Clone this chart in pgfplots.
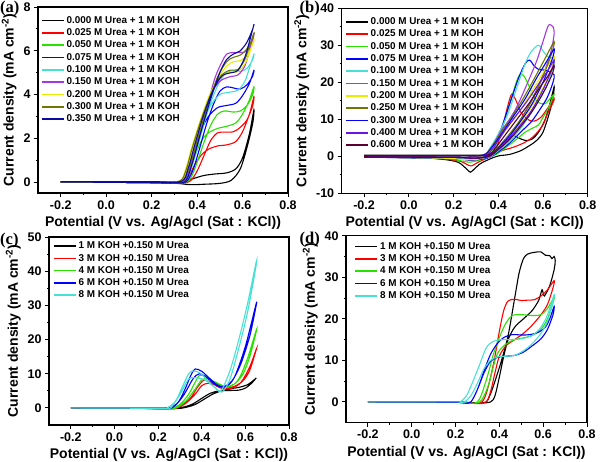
\documentclass[border=0pt]{standalone}
\usepackage{fontspec}
\setmainfont{Liberation Sans}
\newfontfamily\serifb{Liberation Serif}
\usepackage{pgfplots}
\pgfplotsset{compat=1.18}

\definecolor{cgreen}{RGB}{40,225,0}
\definecolor{ccyan}{RGB}{70,225,210}
\definecolor{cpurple}{RGB}{165,55,225}
\definecolor{cyellow}{RGB}{235,235,0}
\definecolor{colive}{RGB}{110,120,0}
\definecolor{cnavy}{RGB}{10,10,160}
\definecolor{cblue}{RGB}{0,0,255}
\definecolor{cviolet}{RGB}{110,20,230}
\definecolor{cwine}{RGB}{90,0,50}
\definecolor{cred}{RGB}{255,0,0}

\pgfplotsset{
  cvaxis/.style={
    scale only axis,
    anchor=south west,
    xmin=-0.3, xmax=0.8,
    xtick={-0.2,0,0.2,0.4,0.6,0.8},
    xticklabels={-0.2,0.0,0.2,0.4,0.6,0.8},
    minor x tick num=1, minor y tick num=1,
    tick align=outside,
    xtick pos=bottom, ytick pos=left,
    major tick length=4pt, minor tick length=2.2pt,
    axis line style={line width=1.1pt},
    every tick/.style={black, line width=0.9pt},
    tick label style={font=\fontsize{12.5}{13}\selectfont\bfseries},
    label style={font=\fontsize{14}{15}\selectfont\bfseries},
    ylabel={Current density (mA cm\textsuperscript{-2})},
    every axis plot/.append style={line width=1.1pt, smooth, tension=0.5},
    legend image code/.code={\draw[#1, line width=1.6pt] (0pt,0pt) -- (22pt,0pt);},
    legend cell align=left,
    legend style={draw=none, fill=none, inner sep=0pt, outer sep=0pt,
      font=\fontsize{9.9}{10.5}\selectfont\bfseries, row sep=-0.1pt},
  }
}

\begin{document}
\begin{tikzpicture}
\path[use as bounding box] (0pt,0pt) rectangle (600pt,461pt);

% ---------------- (a) ----------------
\begin{axis}[cvaxis, at={(38pt,268pt)}, width=250pt, height=186pt,
  ymin=-0.5, ymax=8, ytick={0,2,4,6,8}, yticklabels={0,2,4,6,8},
  xlabel={Potential (V vs. Ag/Agcl (Sat : KCl))},
  legend style={at={(0.012,0.96)}, anchor=north west}]
\addplot[black] coordinates {(-0.2,0.02) (0.0,0.02) (0.2,0.02) (0.33,0.03) (0.38,0.15) (0.43,0.3) (0.48,0.37) (0.53,0.42) (0.57,0.6) (0.60,1.1) (0.63,2.2) (0.65,3.3) (0.645,2.7) (0.62,1.6) (0.59,0.6) (0.55,0.08) (0.50,-0.06) (0.43,-0.1) (0.37,-0.12) (0.31,-0.06) (0.2,-0.03) (0.0,-0.01) (-0.2,0.0)};
\addlegendentry{0.000 M Urea + 1 M KOH}
\addplot[cred] coordinates {(-0.2,0.02) (0.0,0.02) (0.2,0.02) (0.33,0.03) (0.36,0.2) (0.39,0.8) (0.42,1.25) (0.45,1.5) (0.49,1.65) (0.53,1.7) (0.57,1.85) (0.60,2.3) (0.63,3.1) (0.65,3.9) (0.645,3.5) (0.62,2.85) (0.59,2.5) (0.56,2.3) (0.52,2.28) (0.49,2.25) (0.46,1.9) (0.43,1.2) (0.40,0.5) (0.37,0.05) (0.33,-0.05) (0.2,-0.03) (0.0,-0.01) (-0.2,0.0)};
\addlegendentry{0.025 M Urea + 1 M KOH}
\addplot[cgreen] coordinates {(-0.2,0.02) (0.0,0.02) (0.2,0.02) (0.33,0.03) (0.36,0.3) (0.39,1.2) (0.42,1.9) (0.45,2.25) (0.49,2.45) (0.53,2.55) (0.57,2.7) (0.60,3.1) (0.63,3.75) (0.65,4.35) (0.645,4.0) (0.62,3.5) (0.59,3.25) (0.56,3.2) (0.52,3.25) (0.49,3.1) (0.46,2.6) (0.43,1.8) (0.40,0.9) (0.37,0.15) (0.33,-0.05) (0.2,-0.03) (0.0,-0.01) (-0.2,0.0)};
\addlegendentry{0.050 M Urea + 1 M KOH}
\addplot[cblue] coordinates {(-0.2,0.02) (0.0,0.02) (0.2,0.02) (0.33,0.03) (0.36,0.4) (0.39,1.4) (0.42,2.4) (0.45,3.0) (0.49,3.4) (0.53,3.5) (0.57,3.6) (0.60,3.95) (0.63,4.5) (0.65,5.1) (0.645,4.85) (0.62,4.45) (0.59,4.25) (0.56,4.3) (0.53,4.35) (0.50,4.15) (0.47,3.5) (0.44,2.6) (0.41,1.5) (0.38,0.5) (0.35,0.0) (0.3,-0.05) (0.2,-0.03) (0.0,-0.01) (-0.2,0.0)};
\addlegendentry{0.075 M Urea + 1 M KOH}
\addplot[ccyan] coordinates {(-0.2,0.02) (0.0,0.02) (0.2,0.02) (0.33,0.03) (0.36,0.5) (0.39,1.6) (0.42,2.6) (0.46,3.5) (0.50,4.0) (0.54,4.1) (0.58,4.2) (0.61,4.6) (0.63,5.2) (0.65,5.85) (0.645,5.6) (0.62,5.2) (0.59,5.05) (0.56,5.1) (0.53,5.0) (0.50,4.6) (0.47,3.9) (0.44,3.0) (0.41,1.9) (0.38,0.8) (0.35,0.05) (0.3,-0.05) (0.2,-0.03) (0.0,-0.01) (-0.2,0.0)};
\addlegendentry{0.100 M Urea + 1 M KOH}
\addplot[cpurple] coordinates {(-0.2,0.02) (0.0,0.02) (0.2,0.02) (0.33,0.03) (0.36,0.6) (0.39,1.7) (0.42,2.8) (0.46,4.0) (0.50,4.6) (0.54,4.8) (0.58,4.9) (0.61,5.3) (0.63,6.0) (0.65,6.8) (0.645,6.5) (0.62,6.0) (0.59,5.92) (0.56,5.92) (0.53,5.85) (0.51,5.5) (0.48,4.8) (0.45,3.7) (0.41,2.3) (0.38,1.0) (0.35,0.1) (0.3,-0.05) (0.2,-0.03) (0.0,-0.01) (-0.2,0.0)};
\addlegendentry{0.150 M Urea + 1 M KOH}
\addplot[cyellow] coordinates {(-0.2,0.02) (0.0,0.02) (0.2,0.02) (0.32,0.03) (0.35,0.6) (0.38,1.7) (0.42,3.0) (0.46,4.1) (0.50,4.75) (0.54,5.0) (0.58,5.05) (0.61,5.4) (0.63,5.9) (0.65,6.5) (0.645,6.3) (0.62,5.8) (0.59,5.55) (0.56,5.5) (0.53,5.3) (0.49,4.7) (0.45,3.7) (0.41,2.4) (0.37,1.0) (0.34,0.1) (0.3,-0.05) (0.2,-0.03) (0.0,-0.01) (-0.2,0.0)};
\addlegendentry{0.200 M Urea + 1 M KOH}
\addplot[colive] coordinates {(-0.2,0.02) (0.0,0.02) (0.2,0.02) (0.32,0.03) (0.35,0.5) (0.38,1.6) (0.42,2.9) (0.46,4.0) (0.50,4.8) (0.54,5.1) (0.58,5.15) (0.61,5.6) (0.63,6.2) (0.65,6.8) (0.645,6.6) (0.62,6.1) (0.59,5.8) (0.56,5.7) (0.53,5.5) (0.49,4.8) (0.45,3.6) (0.41,2.2) (0.37,0.8) (0.34,0.05) (0.3,-0.05) (0.2,-0.03) (0.0,-0.01) (-0.2,0.0)};
\addlegendentry{0.300 M Urea + 1 M KOH}
\addplot[cnavy] coordinates {(-0.2,0.02) (0.0,0.02) (0.2,0.02) (0.33,0.03) (0.36,0.6) (0.39,1.7) (0.43,3.1) (0.47,4.2) (0.51,4.85) (0.55,5.0) (0.58,5.1) (0.61,5.7) (0.63,6.4) (0.65,7.2) (0.645,7.0) (0.62,6.4) (0.59,6.0) (0.56,5.85) (0.53,5.6) (0.50,5.0) (0.46,3.8) (0.42,2.4) (0.38,0.9) (0.35,0.05) (0.3,-0.05) (0.2,-0.03) (0.0,-0.01) (-0.2,0.0)};
\addlegendentry{0.350 M Urea + 1 M KOH}
\end{axis}

% ---------------- (b) ----------------
\begin{axis}[cvaxis, at={(341.7pt,267.7pt)}, width=246pt, height=185pt,
  ymin=-10, ymax=40, ytick={-10,0,10,20,30,40}, yticklabels={-10,0,10,20,30,40},
  xlabel={Potential (V vs. Ag/AgCl (Sat : KCl))},
  legend style={at={(0.014,0.96)}, anchor=north west}]
\addplot[black] coordinates {(-0.2,0.3) (0.0,0.3) (0.2,0.3) (0.35,0.3) (0.39,0.6) (0.42,2.5) (0.45,4.8) (0.47,5.6) (0.49,5.0) (0.52,4.3) (0.55,4.6) (0.58,6.5) (0.61,10) (0.63,14) (0.65,18.8) (0.645,16) (0.63,12) (0.60,6.5) (0.57,4.2) (0.54,2.9) (0.50,1.5) (0.45,0.5) (0.40,0.1) (0.36,-0.8) (0.32,-2.0) (0.29,-3.6) (0.275,-4.3) (0.26,-3.5) (0.22,-1.6) (0.15,-0.8) (0.05,-0.4) (-0.2,-0.2)};
\addlegendentry{0.000 M Urea + 1 M KOH}
\addplot[cred] coordinates {(-0.2,0.2) (0.2,0.2) (0.36,0.3) (0.39,2) (0.42,8) (0.44,13) (0.46,16.8) (0.48,15) (0.50,12) (0.53,10) (0.56,9.5) (0.59,10.5) (0.62,12.9) (0.65,15.6) (0.645,14.5) (0.62,11.5) (0.60,8.5) (0.56,5.5) (0.52,3.8) (0.47,2.5) (0.42,1.6) (0.39,0.8) (0.35,-0.5) (0.31,-1.6) (0.28,-2.6) (0.26,-2.2) (0.22,-1.2) (0.1,-0.5) (-0.2,-0.2)};
\addlegendentry{0.025 M Urea + 1 M KOH}
\addplot[cgreen] coordinates {(-0.2,0.2) (0.2,0.2) (0.35,0.3) (0.38,2) (0.42,8) (0.46,16) (0.49,21.5) (0.51,22) (0.53,20) (0.56,16) (0.58,14.5) (0.61,14.2) (0.63,15.5) (0.65,16.8) (0.645,16) (0.62,12.5) (0.60,10.5) (0.58,8.5) (0.55,7.5) (0.52,6.5) (0.48,4.5) (0.43,2.2) (0.39,0.5) (0.35,-0.4) (0.30,-1.3) (0.27,-1.6) (0.24,-1.3) (0.15,-0.6) (-0.2,-0.2)};
\addlegendentry{0.050 M Urea + 1 M KOH}
\addplot[cblue] coordinates {(-0.2,0.2) (0.2,0.2) (0.34,0.3) (0.37,2) (0.41,7) (0.45,14) (0.49,21) (0.52,25) (0.54,26) (0.56,24.5) (0.58,23.5) (0.61,23.3) (0.63,22.8) (0.65,22) (0.645,20) (0.62,16) (0.59,13) (0.55,9.5) (0.50,6.5) (0.45,3.5) (0.40,1.2) (0.36,-0.3) (0.31,-0.9) (0.27,-1.1) (0.2,-0.7) (-0.2,-0.2)};
\addlegendentry{0.075 M Urea + 1 M KOH}
\addplot[ccyan] coordinates {(-0.2,0.2) (0.2,0.2) (0.33,0.3) (0.36,2) (0.40,6) (0.44,11) (0.48,18) (0.52,25) (0.55,28.5) (0.58,30) (0.60,28.5) (0.62,27) (0.65,26.2) (0.645,24) (0.62,19.5) (0.58,15) (0.54,11) (0.50,7.5) (0.45,4) (0.40,1.5) (0.36,-0.2) (0.30,-0.7) (0.26,-0.8) (0.2,-0.5) (-0.2,-0.2)};
\addlegendentry{0.100 M Urea + 1 M KOH}
\addplot[cpurple] coordinates {(-0.2,0.2) (0.2,0.2) (0.33,0.3) (0.37,2.5) (0.41,6.5) (0.45,10) (0.48,13) (0.52,18.3) (0.57,25.5) (0.60,31) (0.62,34.8) (0.63,35.6) (0.645,35) (0.65,33.5) (0.645,31) (0.63,27) (0.60,22) (0.56,16.5) (0.52,12) (0.48,8) (0.44,4.5) (0.40,2) (0.36,0) (0.30,-0.5) (0.2,-0.3) (-0.2,-0.2)};
\addlegendentry{0.150 M Urea + 1 M KOH}
\addplot[cyellow] coordinates {(-0.2,0.2) (0.2,0.2) (0.33,0.3) (0.37,2) (0.42,6) (0.47,10) (0.52,14.5) (0.57,19.5) (0.61,23.5) (0.65,27) (0.64,24) (0.60,18.5) (0.55,13.5) (0.50,9) (0.45,5.5) (0.40,2.5) (0.36,0.2) (0.30,-0.9) (0.25,-0.9) (0.15,-0.5) (-0.2,-0.2)};
\addlegendentry{0.200 M Urea + 1 M KOH}
\addplot[colive] coordinates {(-0.2,0.2) (0.2,0.2) (0.33,0.3) (0.37,2.5) (0.42,7) (0.47,11.5) (0.52,16.5) (0.57,22) (0.61,26.5) (0.65,31) (0.64,28) (0.60,21.5) (0.55,15) (0.50,10) (0.45,6) (0.40,2.5) (0.36,0.3) (0.30,-0.5) (0.2,-0.3) (-0.2,-0.2)};
\addlegendentry{0.250 M Urea + 1 M KOH}
\addplot[cblue] coordinates {(-0.2,0.2) (0.2,0.2) (0.33,0.3) (0.37,2.3) (0.42,6.5) (0.47,11) (0.52,15.5) (0.57,21) (0.61,25) (0.65,29) (0.64,26) (0.60,20) (0.55,14) (0.50,9.5) (0.45,5.5) (0.40,2.3) (0.36,0.2) (0.30,-0.5) (0.2,-0.3) (-0.2,-0.2)};
\addlegendentry{0.300 M Urea + 1 M KOH}
\addplot[cviolet] coordinates {(-0.2,0.2) (0.2,0.2) (0.34,0.3) (0.38,2.5) (0.43,7) (0.48,11) (0.53,15) (0.58,19.5) (0.62,23) (0.65,26) (0.64,23.5) (0.60,18) (0.55,12.5) (0.50,8.5) (0.45,5) (0.40,2) (0.36,0) (0.30,-0.5) (0.2,-0.3) (-0.2,-0.2)};
\addlegendentry{0.400 M Urea + 1 M KOH}
\addplot[cwine] coordinates {(-0.2,0.2) (0.2,0.2) (0.35,0.3) (0.39,2.5) (0.44,6.5) (0.49,10.5) (0.54,14.5) (0.59,19) (0.62,21.5) (0.65,24.5) (0.64,22) (0.60,17) (0.55,12) (0.50,8) (0.45,4.5) (0.40,1.8) (0.36,0) (0.30,-0.5) (0.2,-0.3) (-0.2,-0.2)};
\addlegendentry{0.600 M Urea + 1 M KOH}
\end{axis}

% ---------------- (c) ----------------
\begin{axis}[cvaxis, at={(49pt,36pt)}, width=240pt, height=188pt,
  ymin=-5, ymax=50, ytick={0,10,20,30,40,50}, yticklabels={0,10,20,30,40,50},
  xlabel={Potential (V vs. Ag/AgCl (Sat : KCl))},
  legend style={at={(0.017,0.985)}, anchor=north west}]
\addplot[black] coordinates {(-0.2,0) (0.0,0) (0.2,0) (0.28,0) (0.32,0.3) (0.36,1.2) (0.40,2.8) (0.44,4.3) (0.48,5) (0.53,5.1) (0.57,5.2) (0.60,5.8) (0.63,7.3) (0.65,8.8) (0.64,8.2) (0.61,6.8) (0.57,6.0) (0.53,5.6) (0.49,5.0) (0.45,4.0) (0.41,2.5) (0.37,1.0) (0.33,0.2) (0.28,-0.2) (0.1,-0.1) (-0.2,0)};
\addlegendentry{1 M KOH +0.150 M Urea}
\addplot[cred] coordinates {(-0.2,0) (0.2,0) (0.27,0) (0.31,0.8) (0.35,3) (0.38,6) (0.41,8.1) (0.44,7.6) (0.47,6.3) (0.50,5.6) (0.54,5.8) (0.58,7.5) (0.62,12) (0.65,17.2) (0.645,16) (0.62,11) (0.59,8) (0.55,6.3) (0.51,5.8) (0.47,6.5) (0.43,7.2) (0.40,6.5) (0.37,4) (0.33,1.5) (0.29,0) (0.25,-0.3) (0.1,-0.1) (-0.2,0)};
\addlegendentry{3 M KOH +0.150 M Urea}
\addplot[cgreen] coordinates {(-0.2,0) (0.2,0) (0.26,0) (0.30,1) (0.34,4) (0.37,7.5) (0.39,9.5) (0.42,9.3) (0.45,7.8) (0.49,6.3) (0.53,6.2) (0.57,8.5) (0.61,14.5) (0.65,22.8) (0.645,21) (0.62,15) (0.59,10) (0.55,7) (0.51,6.3) (0.47,7.3) (0.43,8.5) (0.40,8.2) (0.37,5.5) (0.33,2.2) (0.29,0.2) (0.25,-0.3) (0.1,-0.1) (-0.2,0)};
\addlegendentry{4 M KOH +0.150 M Urea}
\addplot[cblue] coordinates {(-0.2,0) (0.2,0) (0.25,0) (0.29,1.5) (0.32,5) (0.35,9.5) (0.37,11.4) (0.40,10.7) (0.43,9) (0.47,6.8) (0.51,6.2) (0.55,9) (0.60,18) (0.65,30.6) (0.645,28.5) (0.62,21) (0.58,13) (0.54,8) (0.50,6.2) (0.47,6.5) (0.43,8.5) (0.39,10) (0.36,8.5) (0.32,4) (0.28,0.8) (0.24,-0.3) (0.1,-0.1) (-0.2,0)};
\addlegendentry{6 M KOH +0.150 M Urea}
\addplot[ccyan] coordinates {(-0.2,0) (0.2,0) (0.24,0) (0.28,2) (0.31,6) (0.34,10) (0.36,10.8) (0.39,10.3) (0.42,8.5) (0.46,6) (0.49,5.2) (0.53,11) (0.57,20) (0.61,30.5) (0.65,42.8) (0.645,40) (0.61,28) (0.57,17.5) (0.53,8.5) (0.50,5) (0.48,4.8) (0.45,6.5) (0.41,8.3) (0.37,8.8) (0.34,8.5) (0.31,5) (0.27,1) (0.24,-0.3) (0.1,-0.1) (-0.2,0)};
\addlegendentry{8 M KOH +0.150 M Urea}
\end{axis}

% ---------------- (d) ----------------
\begin{axis}[cvaxis, at={(346pt,38.3pt)}, width=241pt, height=187pt,
  ymin=-5, ymax=40, ytick={0,10,20,30,40}, yticklabels={0,10,20,30,40},
  xlabel={Potential (V vs. Ag/AgCl (Sat : KCl))},
  legend style={at={(0.035,0.975)}, anchor=north west}]
\addplot[black] coordinates {(-0.2,0) (0.0,0) (0.2,0) (0.30,-0.2) (0.34,0) (0.36,2) (0.38,5) (0.41,10) (0.44,16) (0.47,25) (0.49,31) (0.51,34.5) (0.53,35.6) (0.56,36) (0.59,36.1) (0.61,35.3) (0.63,35.2) (0.64,34.5) (0.65,35) (0.655,34) (0.65,31.8) (0.63,28) (0.605,25.5) (0.595,27) (0.58,24.5) (0.55,22) (0.51,20) (0.47,18) (0.44,15) (0.42,11) (0.40,6) (0.38,1.5) (0.36,0) (0.30,-0.3) (0.2,-0.1) (0.0,0) (-0.2,0)};
\addlegendentry{1 M KOH +0.150 M Urea}
\addplot[cred] coordinates {(-0.2,0) (0.2,0) (0.28,-0.3) (0.32,0) (0.34,2) (0.36,6) (0.38,11) (0.40,17) (0.42,22) (0.44,24.3) (0.47,24.7) (0.50,24.4) (0.53,24.5) (0.56,24.6) (0.59,25.5) (0.62,27) (0.65,29.2) (0.645,27.5) (0.62,23.5) (0.59,21) (0.55,18.5) (0.51,16.5) (0.47,15) (0.43,13.5) (0.40,11) (0.38,7) (0.36,2.5) (0.34,0) (0.30,-0.4) (0.2,-0.1) (-0.2,0)};
\addlegendentry{3 M KOH +0.150 M Urea}
\addplot[cgreen] coordinates {(-0.2,0) (0.2,0) (0.27,-0.3) (0.30,0) (0.32,2) (0.35,7) (0.37,11) (0.40,15.5) (0.43,19) (0.46,20.8) (0.50,21) (0.55,20.8) (0.59,21) (0.62,22.5) (0.65,25.2) (0.645,24) (0.62,20) (0.59,17.5) (0.55,16) (0.50,15.3) (0.46,14.8) (0.42,13.5) (0.39,11.5) (0.37,8) (0.35,4) (0.32,0.5) (0.29,-0.3) (0.2,-0.1) (-0.2,0)};
\addlegendentry{4 M KOH +0.150 M Urea}
\addplot[cblue] coordinates {(-0.2,0) (0.2,0) (0.24,-0.2) (0.27,0) (0.30,3) (0.33,7.5) (0.36,11.5) (0.39,14) (0.42,15.5) (0.46,16.2) (0.50,16.1) (0.54,16.2) (0.58,16.8) (0.61,18) (0.63,20) (0.65,23) (0.645,21) (0.62,17.5) (0.59,15.2) (0.55,13.5) (0.51,12) (0.47,11.2) (0.43,11) (0.39,10.7) (0.36,9.8) (0.33,7) (0.30,3) (0.27,0) (0.24,-0.3) (0.2,-0.1) (-0.2,0)};
\addlegendentry{6 M KOH +0.150 M Urea}
\addplot[ccyan] coordinates {(-0.2,0) (0.2,0) (0.22,0) (0.25,1.5) (0.28,5) (0.31,9) (0.34,13) (0.37,14.5) (0.41,15) (0.45,15) (0.50,15.2) (0.55,16) (0.59,18) (0.62,21) (0.65,25.8) (0.645,24) (0.62,19.5) (0.59,16.5) (0.55,14) (0.51,12.3) (0.47,11.2) (0.43,11) (0.39,10.8) (0.36,10) (0.33,8) (0.30,4.5) (0.27,1.5) (0.24,0) (0.2,0) (-0.2,0)};
\addlegendentry{8 M KOH +0.150 M Urea}
\end{axis}

% panel labels
\node[anchor=west, inner sep=0pt, font=\serifb\fontsize{16.5}{17}\selectfont\bfseries] at (0pt,452pt) {(a)};
\node[anchor=west, inner sep=0pt, font=\serifb\fontsize{16.5}{17}\selectfont\bfseries] at (299.5pt,452pt) {(b)};
\node[anchor=west, inner sep=0pt, font=\serifb\fontsize{16.5}{17}\selectfont\bfseries] at (0pt,220pt) {(c)};
\node[anchor=west, inner sep=0pt, font=\serifb\fontsize{16.5}{17}\selectfont\bfseries] at (299.5pt,221pt) {(d)};
\end{tikzpicture}
\end{document}
